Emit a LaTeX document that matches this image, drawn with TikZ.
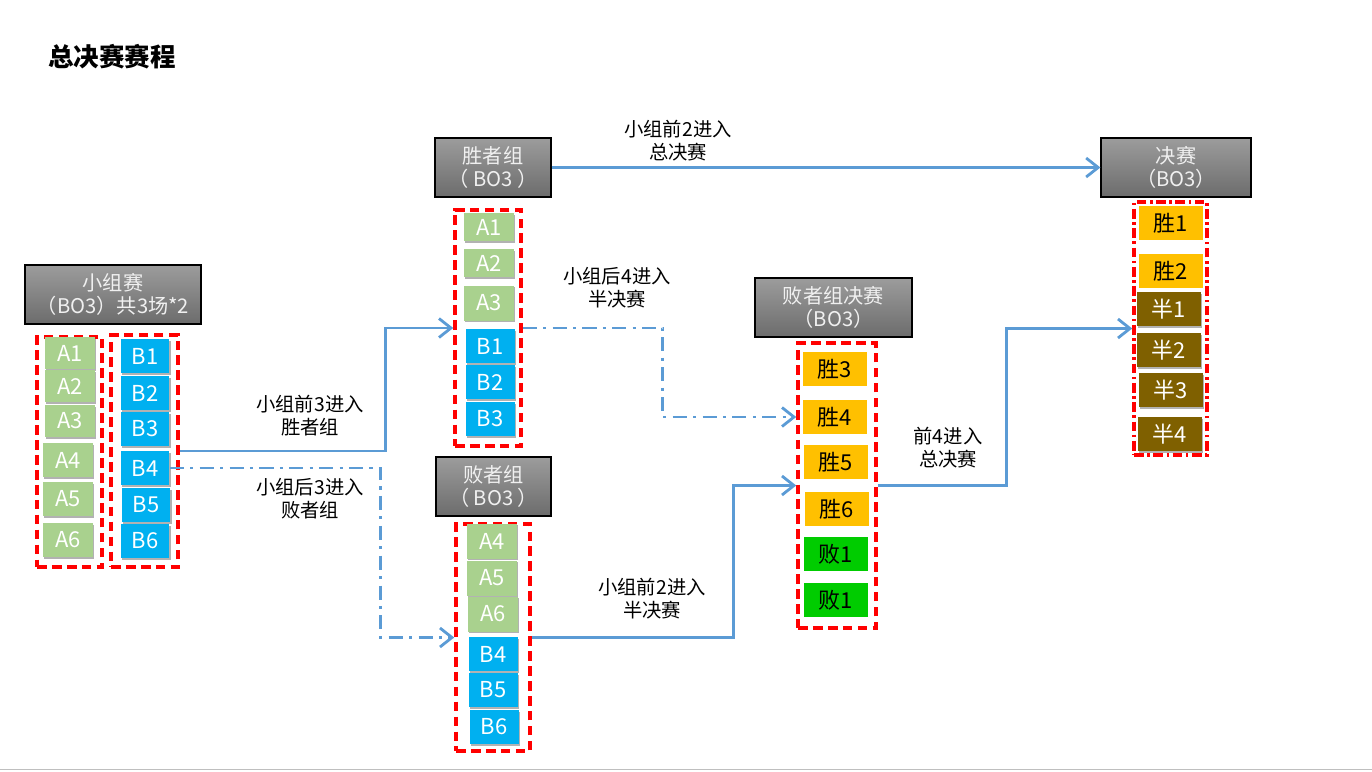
\documentclass[tikz,border=0pt]{standalone}
\usepackage{fontspec}
\setmainfont{Noto Sans CJK SC}
\usetikzlibrary{arrows.meta}
\usetikzlibrary{shadows}

\definecolor{linkblue}{HTML}{5B9BD5}
\definecolor{teamA}{HTML}{A9D18E}
\definecolor{teamB}{HTML}{00B0F0}
\definecolor{winY}{HTML}{FFC000}
\definecolor{loseG}{HTML}{00CC00}
\definecolor{semiB}{HTML}{7F6000}
\definecolor{headTop}{HTML}{9C9C9C}
\definecolor{headBot}{HTML}{6C6C6C}

\tikzset{
	headbox/.style={draw=black, line width=0.7pt, top color=headTop, bottom color=headBot,
		text=white!94!black, align=center, font=\fontsize{11.5}{13.5}\selectfont,
		minimum height=1.18cm, inner sep=0pt},
	grpbox/.style={draw=red, line width=2pt, dash pattern=on 5.5pt off 3pt},
	grpboxdot/.style={draw=red, line width=2pt, dash pattern=on 5.5pt off 2pt on 1.5pt off 2pt},
	cell/.style={minimum width=1cm, minimum height=0.66cm, inner sep=0pt,
		font=\fontsize{12.5}{13}\selectfont},
	cellshadow/.style={drop shadow={shadow xshift=0.6pt, shadow yshift=-1pt, fill=black, opacity=0.3}},
	acell/.style={cell, fill=teamA, text=white, minimum height=0.64cm, cellshadow},
	bcell/.style={cell, fill=teamB, text=white, minimum width=0.98cm, minimum height=0.68cm, cellshadow},
	wcell/.style={cell, fill=winY, text=black, minimum width=1.28cm, minimum height=0.68cm},
	lcell/.style={cell, fill=loseG, text=black, minimum width=1.28cm, minimum height=0.68cm},
	scell/.style={cell, fill=semiB, text=white, minimum width=1.28cm, minimum height=0.68cm, cellshadow},
	link/.style={draw=linkblue, line width=1.6pt, -{Straight Barb[length=2.4mm, width=3.8mm]}},
	dashlink/.style={link, dash pattern=on 8pt off 3.6pt on 1.8pt off 3.6pt},
	linklabel/.style={align=center, font=\fontsize{11}{13}\selectfont}
}

\begin{document}
\begin{tikzpicture}[x=0.02cm, y=-0.02cm]

	\useasboundingbox (0,0) rectangle (1372,771);
	%bottom rule
	\draw[black!25, line width=0.8pt] (0,769.5) -- (1372,769.5);

	%title
	\node[font=\fontsize{14.5}{16}\selectfont\bfseries] (title) at (112,57) {总决赛赛程};

	%stage headers
	\node[headbox, minimum width=3.52cm] (gh) at (113,294.5) {小组赛\\（BO3）共3场*2};
	\node[headbox, minimum width=2.32cm] (wh) at (493,167.5) {胜者组\\（ BO3 ）};
	\node[headbox, minimum width=2.30cm] (lh) at (493.5,486.5) {败者组\\（ BO3 ）};
	\node[headbox, minimum width=3.14cm] (lfh) at (833.5,307.5) {败者组决赛\\（BO3）};
	\node[headbox, minimum width=3.00cm] (fh) at (1176,167.5) {决赛\\（BO3）};

	%dashed group frames
	\node[grpbox, minimum width=1.30cm, minimum height=4.60cm] (agrp) at (69.5,452) {};
	\node[grpbox, minimum width=1.34cm, minimum height=4.64cm] (bgrp) at (144.5,451) {};
	\node[grpbox, minimum width=1.32cm, minimum height=4.72cm] (wbox) at (488,328) {};
	\node[grpbox, minimum width=1.48cm, minimum height=4.54cm] (lbox) at (493,637.5) {};
	\node[grpbox, minimum width=1.56cm, minimum height=5.70cm] (lfbox) at (837,485.5) {};
	\node[grpboxdot, minimum width=1.46cm, minimum height=5.06cm] (fbox) at (1170.5,328.5) {};

	%group stage, A side
	\node[acell] (a1) at (70,353) {A1};
	\node[acell] (a2) at (70,386) {A2};
	\node[acell] (a3) at (70,421) {A3};
	\node[acell, minimum height=0.68cm] (a4) at (68,460) {A4};
	\node[acell, minimum height=0.68cm] (a5) at (68,499) {A5};
	\node[acell, minimum height=0.68cm] (a6) at (68,540) {A6};
	%group stage, B side
	\node[bcell] (b1) at (145,356) {B1};
	\node[bcell] (b2) at (145,393) {B2};
	\node[bcell] (b3) at (145,429) {B3};
	\node[bcell] (b4) at (145,468) {B4};
	\node[bcell] (b5) at (146,505) {B5};
	\node[bcell] (b6) at (145,541) {B6};

	%winners bracket
	\node[acell, minimum height=0.56cm] (wa1) at (489,227) {A1};
	\node[acell, minimum height=0.56cm] (wa2) at (489,263) {A2};
	\node[acell, minimum height=0.70cm] (wa3) at (489,303) {A3};
	\node[bcell] (wb1) at (490,346) {B1};
	\node[bcell] (wb2) at (490,382) {B2};
	\node[bcell] (wb3) at (490,419) {B3};

	%losers bracket
	\node[acell, minimum height=0.70cm] (la4) at (492,541) {A4};
	\node[acell, minimum height=0.70cm] (la5) at (492,578) {A5};
	\node[acell, minimum height=0.70cm] (la6) at (493,614) {A6};
	\node[bcell] (lb4) at (493,654) {B4};
	\node[bcell] (lb5) at (493,690) {B5};
	\node[bcell] (lb6) at (494,727) {B6};

	%losers final
	\node[wcell] (s3) at (835,369) {胜3};
	\node[wcell] (s4) at (835,417) {胜4};
	\node[wcell] (s5) at (836,462) {胜5};
	\node[wcell] (s6) at (837,509) {胜6};
	\node[lcell] (f1) at (836,554) {败1};
	\node[lcell] (f2) at (836,600) {败1};

	%grand final
	\node[wcell] (s1) at (1171,223) {胜1};
	\node[wcell] (s2) at (1171,271) {胜2};
	\node[scell] (h1) at (1169,309) {半1};
	\node[scell] (h2) at (1169,350) {半2};
	\node[scell] (h3) at (1171,390) {半3};
	\node[scell] (h4) at (1170,434) {半4};

	%advancement paths
	\draw[link] (bgrp.east) -- ++(206,0) |- (wbox.west);
	\draw[dashlink] (b4.east) -- ++(211,0) |- (lbox.west);
	\draw[link] (wh.east) -- (fh.west);
	\draw[dashlink] (wbox.east) -- ++(140,0) |- (lfbox.west |- s4);
	\draw[link] (lbox.east) -- ++(202,0) |- (lfbox.west);
	\draw[link] (lfbox.east) -- ++(129,0) |- (fbox.west);

	%path labels
	\node[linklabel] (t1) at (310,416) {小组前3进入\\胜者组};
	\node[linklabel] (t2) at (310,499) {小组后3进入\\败者组};
	\node[linklabel] (t3) at (678,141) {小组前2进入\\总决赛};
	\node[linklabel] (t4) at (617,288) {小组后4进入\\半决赛};
	\node[linklabel] (t5) at (652,599) {小组前2进入\\半决赛};
	\node[linklabel] (t6) at (948,448) {前4进入\\总决赛};

\end{tikzpicture}
\end{document}
